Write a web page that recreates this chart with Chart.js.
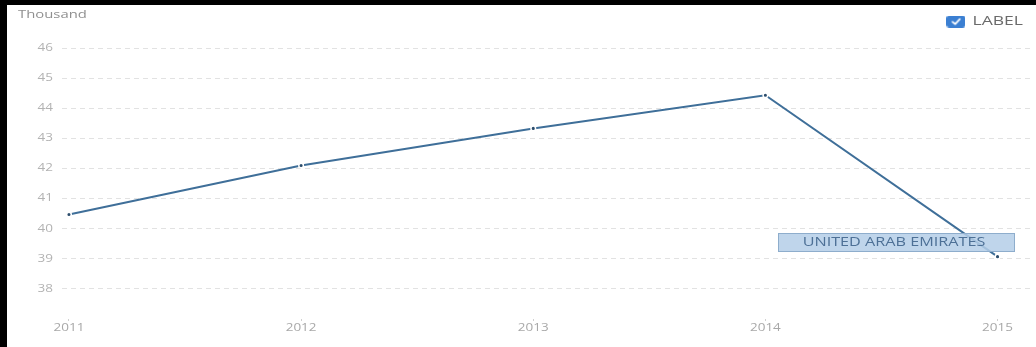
<!DOCTYPE html>
<html>
<head>
<meta charset="utf-8">
<script src="https://cdn.jsdelivr.net/npm/chart.js@4.4.1/dist/chart.umd.min.js"></script>
<style>
  html, body { margin: 0; padding: 0; background: #fff; }
  #frame {
    position: absolute; left: 0; top: 0;
    width: 1036px; height: 347px;
    box-sizing: border-box;
    border-top: 5px solid #000;
    border-left: 7px solid #000;
  }
  #chart { display: block; }
</style>
</head>
<body>
<div id="frame"><canvas id="chart" width="1029" height="342"></canvas></div>
<script>
// Years and values (thousand)
const years = [2011, 2012, 2013, 2014, 2015];
const values = [40.47, 42.1, 43.33, 44.43, 39.07];
const yTicks = [38, 39, 40, 41, 42, 43, 44, 45, 46];
const seriesName = 'LABEL';
const pointName = 'UNITED ARAB EMIRATES';
const unitText = 'Thousand';

const FONT = "'Open Sans', 'Noto Sans', sans-serif";
const TEXT_STRETCH = 1.35;   // wide lettering: glyphs drawn stretched horizontally

const canvas = document.getElementById('chart');
const ctx2d = canvas.getContext('2d');

// Draw every text run horizontally stretched around its anchor point,
// and report widths that agree with it so the layout stays consistent.
(function stretchText(g, sx) {
  const proto = CanvasRenderingContext2D.prototype;
  g.fillText = function (text, x, y, maxWidth) {
    this.save();
    this.translate(x, y);
    this.scale(sx, 1);
    if (maxWidth !== undefined) proto.fillText.call(this, text, 0, 0, maxWidth / sx);
    else proto.fillText.call(this, text, 0, 0);
    this.restore();
  };
  g.measureText = function (text) {
    const m = proto.measureText.call(this, text);
    return {
      width: m.width * sx,
      actualBoundingBoxLeft: m.actualBoundingBoxLeft * sx,
      actualBoundingBoxRight: m.actualBoundingBoxRight * sx,
      actualBoundingBoxAscent: m.actualBoundingBoxAscent,
      actualBoundingBoxDescent: m.actualBoundingBoxDescent,
      fontBoundingBoxAscent: m.fontBoundingBoxAscent,
      fontBoundingBoxDescent: m.fontBoundingBoxDescent
    };
  };
})(ctx2d, TEXT_STRETCH);

// Checked-checkbox icon used as the legend marker
function checkboxIcon() {
  const c = document.createElement('canvas');
  const w = 19, h = 12, r = 3;
  c.width = w; c.height = h;
  const g = c.getContext('2d');
  g.fillStyle = '#3b7fd2';
  g.beginPath();
  g.moveTo(r, 0); g.lineTo(w - r, 0); g.quadraticCurveTo(w, 0, w, r);
  g.lineTo(w, h - r); g.quadraticCurveTo(w, h, w - r, h);
  g.lineTo(r, h); g.quadraticCurveTo(0, h, 0, h - r);
  g.lineTo(0, r); g.quadraticCurveTo(0, 0, r, 0);
  g.fill();
  g.strokeStyle = '#fff'; g.lineWidth = 1.7; g.lineCap = 'round'; g.lineJoin = 'round';
  g.beginPath(); g.moveTo(6, 6.3); g.lineTo(8.7, 8.6); g.lineTo(13.3, 3.7); g.stroke();
  return c;
}

// Extra room below the legend row
const legendSpacer = {
  id: 'legendSpacer',
  afterInit(chart) {
    const legend = chart.legend;
    if (!legend) return;
    const fit = legend.fit;
    legend.fit = function () { fit.call(this); this.height += 10; };
  }
};

// Unit caption in the top-left corner
const unitCaption = {
  id: 'unitCaption',
  afterDraw(chart) {
    const g = chart.ctx;
    g.save();
    g.font = '11px ' + FONT;
    g.fillStyle = '#8f8f8f';
    g.textBaseline = 'middle';
    g.textAlign = 'left';
    g.fillText(unitText, 11, 10);
    g.restore();
  }
};

// Name label boxed next to the last point
const pointLabel = {
  id: 'pointLabel',
  afterDatasetsDraw(chart) {
    const meta = chart.getDatasetMeta(0);
    const p = meta.data[meta.data.length - 1];
    const g = chart.ctx;
    const right = Math.round(p.x + 16), bottom = Math.round(p.y - 6);
    const w = 236, h = 18;
    g.save();
    g.fillStyle = 'rgba(180, 206, 232, 0.86)';
    g.strokeStyle = '#8eadcc';
    g.lineWidth = 1;
    g.fillRect(right - w + 0.5, bottom - h + 0.5, w, h);
    g.strokeRect(right - w + 0.5, bottom - h + 0.5, w, h);
    g.font = '12px ' + FONT;
    g.fillStyle = '#4d7096';
    g.textAlign = 'center';
    g.textBaseline = 'middle';
    g.fillText(pointName, right - w / 2 - 2, bottom - h / 2 + 1);
    g.restore();
  }
};

new Chart(canvas, {
  type: 'line',
  data: {
    datasets: [{
      label: seriesName,
      data: years.map((yr, i) => ({ x: yr, y: values[i] })),
      borderColor: '#3f6f99',
      borderWidth: 2,
      tension: 0,
      pointRadius: 2.3,
      pointBackgroundColor: '#2c4d6c',
      pointBorderColor: '#ffffff',
      pointBorderWidth: 1.5,
      fill: false
    }]
  },
  options: {
    responsive: false,
    animation: false,
    layout: { padding: { left: 0, right: 3, top: 0, bottom: 0 } },
    plugins: {
      tooltip: { enabled: false },
      legend: {
        position: 'top',
        align: 'end',
        labels: {
          usePointStyle: true,
          pointStyle: checkboxIcon(),
          pointStyleWidth: 20,
          font: { family: FONT, size: 13 },
          color: '#6a6a6a',
          padding: 10
        }
      }
    },
    scales: {
      x: {
        type: 'linear',
        min: 2010.970,
        max: 2015.142,
        afterBuildTicks(scale) { scale.ticks = years.map(v => ({ value: v })); },
        afterFit(scale) { scale.height = 28; },
        border: { display: false },
        grid: { drawOnChartArea: false, color: '#cfcfcf', tickLength: 2 },
        ticks: {
          font: { family: FONT, size: 10 },
          color: '#a8a8a8',
          padding: 1,
          maxRotation: 0,
          callback: v => String(v)
        }
      },
      y: {
        min: 37,
        max: 46,
        afterBuildTicks(scale) { scale.ticks = yTicks.map(v => ({ value: v })); },
        afterFit(scale) { scale.width = 55; },
        border: { display: false, dash: [5, 4] },
        grid: { color: '#e2e2e2', drawTicks: false, lineWidth: 1 },
        ticks: {
          font: { family: FONT, size: 10 },
          color: '#b3b3b3',
          padding: 9,
          callback: v => String(v)
        }
      }
    }
  },
  plugins: [legendSpacer, unitCaption, pointLabel]
});
</script>
</body>
</html>
